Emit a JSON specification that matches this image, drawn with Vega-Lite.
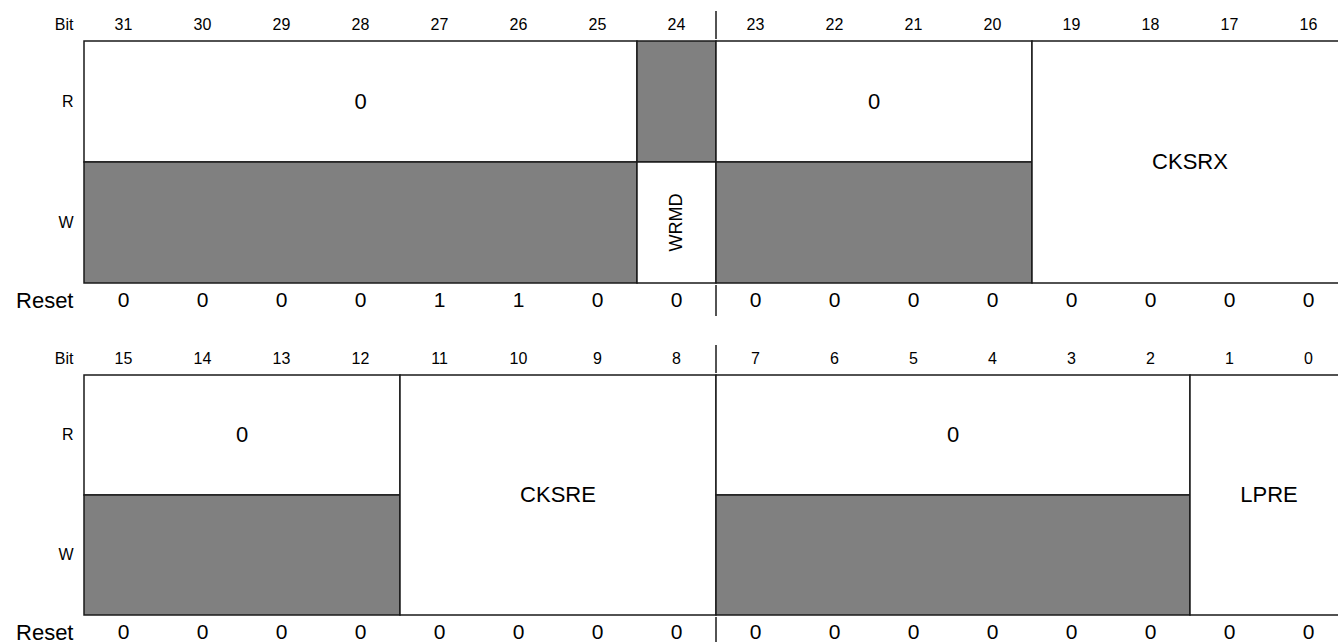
{
  "$schema": "https://vega.github.io/schema/vega-lite/v6.json",
  "padding": {"left": 15, "top": 10, "right": 0, "bottom": 0},
  "background": "white",
  "config": {
    "view": {"stroke": null},
    "axis": {"ticks": false, "domain": false, "labelFont": "Liberation Sans", "labelColor": "#000", "grid": false},
    "text": {"font": "Liberation Sans", "color": "#000"}
  },
  "datasets": {
    "fields": [
      {"half": "upper", "msb": 31, "lsb": 25, "top": "R", "bottom": "R", "name": "0", "access": "readonly"},
      {"half": "upper", "msb": 31, "lsb": 25, "top": "W", "bottom": "W", "name": "", "access": "reserved"},
      {"half": "upper", "msb": 24, "lsb": 24, "top": "R", "bottom": "R", "name": "", "access": "reserved"},
      {"half": "upper", "msb": 24, "lsb": 24, "top": "W", "bottom": "W", "name": "WRMD", "access": "field"},
      {"half": "upper", "msb": 23, "lsb": 20, "top": "R", "bottom": "R", "name": "0", "access": "readonly"},
      {"half": "upper", "msb": 23, "lsb": 20, "top": "W", "bottom": "W", "name": "", "access": "reserved"},
      {"half": "upper", "msb": 19, "lsb": 16, "top": "R", "bottom": "W", "name": "CKSRX", "access": "field"},
      {"half": "lower", "msb": 15, "lsb": 12, "top": "R", "bottom": "R", "name": "0", "access": "readonly"},
      {"half": "lower", "msb": 15, "lsb": 12, "top": "W", "bottom": "W", "name": "", "access": "reserved"},
      {"half": "lower", "msb": 11, "lsb": 8, "top": "R", "bottom": "W", "name": "CKSRE", "access": "field"},
      {"half": "lower", "msb": 7, "lsb": 2, "top": "R", "bottom": "R", "name": "0", "access": "readonly"},
      {"half": "lower", "msb": 7, "lsb": 2, "top": "W", "bottom": "W", "name": "", "access": "reserved"},
      {"half": "lower", "msb": 1, "lsb": 0, "top": "R", "bottom": "W", "name": "LPRE", "access": "field"}
    ],
    "bits": [
      {"half": "upper", "bit": 31, "reset": 0}, {"half": "upper", "bit": 30, "reset": 0},
      {"half": "upper", "bit": 29, "reset": 0}, {"half": "upper", "bit": 28, "reset": 0},
      {"half": "upper", "bit": 27, "reset": 1}, {"half": "upper", "bit": 26, "reset": 1},
      {"half": "upper", "bit": 25, "reset": 0}, {"half": "upper", "bit": 24, "reset": 0},
      {"half": "upper", "bit": 23, "reset": 0}, {"half": "upper", "bit": 22, "reset": 0},
      {"half": "upper", "bit": 21, "reset": 0}, {"half": "upper", "bit": 20, "reset": 0},
      {"half": "upper", "bit": 19, "reset": 0}, {"half": "upper", "bit": 18, "reset": 0},
      {"half": "upper", "bit": 17, "reset": 0}, {"half": "upper", "bit": 16, "reset": 0},
      {"half": "lower", "bit": 15, "reset": 0}, {"half": "lower", "bit": 14, "reset": 0},
      {"half": "lower", "bit": 13, "reset": 0}, {"half": "lower", "bit": 12, "reset": 0},
      {"half": "lower", "bit": 11, "reset": 0}, {"half": "lower", "bit": 10, "reset": 0},
      {"half": "lower", "bit": 9, "reset": 0}, {"half": "lower", "bit": 8, "reset": 0},
      {"half": "lower", "bit": 7, "reset": 0}, {"half": "lower", "bit": 6, "reset": 0},
      {"half": "lower", "bit": 5, "reset": 0}, {"half": "lower", "bit": 4, "reset": 0},
      {"half": "lower", "bit": 3, "reset": 0}, {"half": "lower", "bit": 2, "reset": 0},
      {"half": "lower", "bit": 1, "reset": 0}, {"half": "lower", "bit": 0, "reset": 0}
    ],
    "dividers": [
      {"half": "upper", "bit": 24},
      {"half": "lower", "bit": 8}
    ]
  },
  "spacing": 27,
  "vconcat": [
    {
      "spacing": 0,
      "vconcat": [
        {
          "width": 1264, "height": 28,
          "layer": [
            {
              "data": {"name": "bits"},
              "transform": [{"filter": "datum.half === 'upper'"}],
              "mark": {"type": "text", "fontSize": 16},
              "encoding": {
                "x": {"field": "bit", "type": "ordinal", "scale": {"type": "band", "domain": [31,30,29,28,27,26,25,24,23,22,21,20,19,18,17,16], "paddingInner": 0, "paddingOuter": 0}, "axis": null},
                "y": {"datum": "Bit", "type": "nominal", "scale": {"type": "band", "paddingInner": 0, "paddingOuter": 0}, "axis": {"title": null, "labelFontSize": 16, "labelPadding": 11}},
                "text": {"field": "bit", "type": "nominal"}
              }
            },
            {
              "data": {"name": "dividers"},
              "transform": [{"filter": "datum.half === 'upper'"}],
              "mark": {"type": "rule", "color": "#1a1a1a", "strokeWidth": 1.5},
              "encoding": {
                "x": {"field": "bit", "type": "ordinal", "bandPosition": 1, "scale": {"type": "band", "domain": [31,30,29,28,27,26,25,24,23,22,21,20,19,18,17,16], "paddingInner": 0, "paddingOuter": 0}, "axis": null}
              }
            }
          ]
        },
        {
          "width": 1264, "height": 242,
          "data": {"name": "fields"},
          "transform": [{"filter": "datum.half === 'upper'"}],
          "layer": [
            {
              "mark": {"type": "rect", "stroke": "#1a1a1a", "strokeWidth": 1.5},
              "encoding": {
                "x": {"field": "msb", "type": "ordinal", "bandPosition": 0, "scale": {"type": "band", "domain": [31,30,29,28,27,26,25,24,23,22,21,20,19,18,17,16], "paddingInner": 0, "paddingOuter": 0}, "axis": null},
                "x2": {"field": "lsb", "bandPosition": 1},
                "y": {"field": "top", "type": "nominal", "bandPosition": 0, "scale": {"type": "band", "domain": ["R", "W"], "paddingInner": 0, "paddingOuter": 0}, "axis": {"title": null, "labelFontSize": 16, "labelPadding": 11}},
                "y2": {"field": "bottom", "bandPosition": 1},
                "fill": {"field": "access", "type": "nominal", "scale": {"domain": ["reserved", "readonly", "field"], "range": ["#808080", "#ffffff", "#ffffff"]}, "legend": null}
              }
            },
            {
              "transform": [
                {"filter": "datum.name !== '' && datum.top === datum.bottom && datum.msb !== datum.lsb"},
                {"fold": ["msb", "lsb"], "as": ["end", "pos"]}
              ],
              "mark": {"type": "text", "fontSize": 22},
              "encoding": {
                "x": {"field": "pos", "aggregate": "mean", "type": "quantitative", "scale": {"domain": [31.5, 15.5], "nice": false, "zero": false}, "axis": null},
                "y": {"field": "top", "type": "nominal", "bandPosition": 0.5, "scale": {"type": "band", "domain": ["R", "W"], "paddingInner": 0, "paddingOuter": 0}},
                "detail": {"field": "msb", "type": "ordinal"},
                "text": {"field": "name", "type": "nominal"}
              }
            },
            {
              "transform": [
                {"filter": "datum.top !== datum.bottom"},
                {"fold": ["msb", "lsb"], "as": ["end", "pos"]}
              ],
              "mark": {"type": "text", "fontSize": 22},
              "encoding": {
                "x": {"field": "pos", "aggregate": "mean", "type": "quantitative", "scale": {"domain": [31.5, 15.5], "nice": false, "zero": false}, "axis": null},
                "y": {"field": "top", "type": "nominal", "bandPosition": 1, "scale": {"type": "band", "domain": ["R", "W"], "paddingInner": 0, "paddingOuter": 0}},
                "detail": {"field": "msb", "type": "ordinal"},
                "text": {"field": "name", "type": "nominal"}
              }
            },
            {
              "transform": [
                {"filter": "datum.name !== '' && datum.msb === datum.lsb"},
                {"fold": ["msb", "lsb"], "as": ["end", "pos"]}
              ],
              "mark": {"type": "text", "fontSize": 18, "angle": 270},
              "encoding": {
                "x": {"field": "pos", "aggregate": "mean", "type": "quantitative", "scale": {"domain": [31.5, 15.5], "nice": false, "zero": false}, "axis": null},
                "y": {"field": "top", "type": "nominal", "bandPosition": 0.5, "scale": {"type": "band", "domain": ["R", "W"], "paddingInner": 0, "paddingOuter": 0}},
                "detail": {"field": "msb", "type": "ordinal"},
                "text": {"field": "name", "type": "nominal"}
              }
            }
          ],
          "resolve": {"scale": {"x": "independent"}}
        },
        {
          "width": 1264, "height": 31,
          "layer": [
            {
              "data": {"name": "bits"},
              "transform": [{"filter": "datum.half === 'upper'"}],
              "mark": {"type": "text", "fontSize": 21},
              "encoding": {
                "x": {"field": "bit", "type": "ordinal", "scale": {"type": "band", "domain": [31,30,29,28,27,26,25,24,23,22,21,20,19,18,17,16], "paddingInner": 0, "paddingOuter": 0}, "axis": null},
                "y": {"datum": "Reset", "type": "nominal", "scale": {"type": "band", "paddingInner": 0, "paddingOuter": 0}, "axis": {"title": null, "labelFontSize": 22, "labelPadding": 11}},
                "text": {"field": "reset", "type": "nominal"}
              }
            },
            {
              "data": {"name": "dividers"},
              "transform": [{"filter": "datum.half === 'upper'"}],
              "mark": {"type": "rule", "color": "#1a1a1a", "strokeWidth": 1.5},
              "encoding": {
                "x": {"field": "bit", "type": "ordinal", "bandPosition": 1, "scale": {"type": "band", "domain": [31,30,29,28,27,26,25,24,23,22,21,20,19,18,17,16], "paddingInner": 0, "paddingOuter": 0}, "axis": null}
              }
            }
          ]
        }
      ]
    },
    {
      "spacing": 0,
      "vconcat": [
        {
          "width": 1264, "height": 28,
          "layer": [
            {
              "data": {"name": "bits"},
              "transform": [{"filter": "datum.half === 'lower'"}],
              "mark": {"type": "text", "fontSize": 16},
              "encoding": {
                "x": {"field": "bit", "type": "ordinal", "scale": {"type": "band", "domain": [15,14,13,12,11,10,9,8,7,6,5,4,3,2,1,0], "paddingInner": 0, "paddingOuter": 0}, "axis": null},
                "y": {"datum": "Bit", "type": "nominal", "scale": {"type": "band", "paddingInner": 0, "paddingOuter": 0}, "axis": {"title": null, "labelFontSize": 16, "labelPadding": 11}},
                "text": {"field": "bit", "type": "nominal"}
              }
            },
            {
              "data": {"name": "dividers"},
              "transform": [{"filter": "datum.half === 'lower'"}],
              "mark": {"type": "rule", "color": "#1a1a1a", "strokeWidth": 1.5},
              "encoding": {
                "x": {"field": "bit", "type": "ordinal", "bandPosition": 1, "scale": {"type": "band", "domain": [15,14,13,12,11,10,9,8,7,6,5,4,3,2,1,0], "paddingInner": 0, "paddingOuter": 0}, "axis": null}
              }
            }
          ]
        },
        {
          "width": 1264, "height": 240,
          "data": {"name": "fields"},
          "transform": [{"filter": "datum.half === 'lower'"}],
          "layer": [
            {
              "mark": {"type": "rect", "stroke": "#1a1a1a", "strokeWidth": 1.5},
              "encoding": {
                "x": {"field": "msb", "type": "ordinal", "bandPosition": 0, "scale": {"type": "band", "domain": [15,14,13,12,11,10,9,8,7,6,5,4,3,2,1,0], "paddingInner": 0, "paddingOuter": 0}, "axis": null},
                "x2": {"field": "lsb", "bandPosition": 1},
                "y": {"field": "top", "type": "nominal", "bandPosition": 0, "scale": {"type": "band", "domain": ["R", "W"], "paddingInner": 0, "paddingOuter": 0}, "axis": {"title": null, "labelFontSize": 16, "labelPadding": 11}},
                "y2": {"field": "bottom", "bandPosition": 1},
                "fill": {"field": "access", "type": "nominal", "scale": {"domain": ["reserved", "readonly", "field"], "range": ["#808080", "#ffffff", "#ffffff"]}, "legend": null}
              }
            },
            {
              "transform": [
                {"filter": "datum.name !== '' && datum.top === datum.bottom && datum.msb !== datum.lsb"},
                {"fold": ["msb", "lsb"], "as": ["end", "pos"]}
              ],
              "mark": {"type": "text", "fontSize": 22},
              "encoding": {
                "x": {"field": "pos", "aggregate": "mean", "type": "quantitative", "scale": {"domain": [15.5, -0.5], "nice": false, "zero": false}, "axis": null},
                "y": {"field": "top", "type": "nominal", "bandPosition": 0.5, "scale": {"type": "band", "domain": ["R", "W"], "paddingInner": 0, "paddingOuter": 0}},
                "detail": {"field": "msb", "type": "ordinal"},
                "text": {"field": "name", "type": "nominal"}
              }
            },
            {
              "transform": [
                {"filter": "datum.top !== datum.bottom"},
                {"fold": ["msb", "lsb"], "as": ["end", "pos"]}
              ],
              "mark": {"type": "text", "fontSize": 22},
              "encoding": {
                "x": {"field": "pos", "aggregate": "mean", "type": "quantitative", "scale": {"domain": [15.5, -0.5], "nice": false, "zero": false}, "axis": null},
                "y": {"field": "top", "type": "nominal", "bandPosition": 1, "scale": {"type": "band", "domain": ["R", "W"], "paddingInner": 0, "paddingOuter": 0}},
                "detail": {"field": "msb", "type": "ordinal"},
                "text": {"field": "name", "type": "nominal"}
              }
            }
          ],
          "resolve": {"scale": {"x": "independent"}}
        },
        {
          "width": 1264, "height": 31,
          "layer": [
            {
              "data": {"name": "bits"},
              "transform": [{"filter": "datum.half === 'lower'"}],
              "mark": {"type": "text", "fontSize": 21},
              "encoding": {
                "x": {"field": "bit", "type": "ordinal", "scale": {"type": "band", "domain": [15,14,13,12,11,10,9,8,7,6,5,4,3,2,1,0], "paddingInner": 0, "paddingOuter": 0}, "axis": null},
                "y": {"datum": "Reset", "type": "nominal", "scale": {"type": "band", "paddingInner": 0, "paddingOuter": 0}, "axis": {"title": null, "labelFontSize": 22, "labelPadding": 11}},
                "text": {"field": "reset", "type": "nominal"}
              }
            },
            {
              "data": {"name": "dividers"},
              "transform": [{"filter": "datum.half === 'lower'"}],
              "mark": {"type": "rule", "color": "#1a1a1a", "strokeWidth": 1.5},
              "encoding": {
                "x": {"field": "bit", "type": "ordinal", "bandPosition": 1, "scale": {"type": "band", "domain": [15,14,13,12,11,10,9,8,7,6,5,4,3,2,1,0], "paddingInner": 0, "paddingOuter": 0}, "axis": null}
              }
            }
          ]
        }
      ]
    }
  ]
}
